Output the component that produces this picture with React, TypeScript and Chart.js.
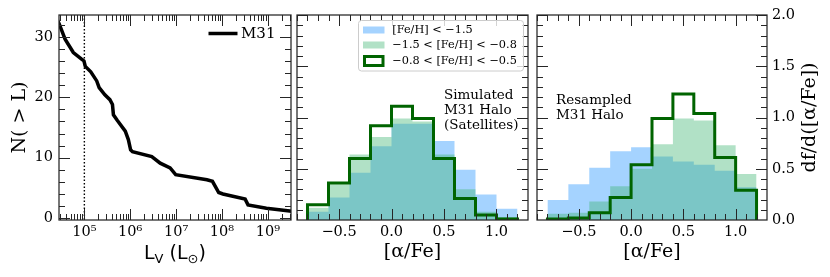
import React, { useEffect, useRef } from "react";
import { Chart, registerables } from "chart.js";

Chart.register(...registerables);

// ---------- data ----------
// Cumulative luminosity function of M31 satellites
const lumL = [2.5e4, 2.8e4, 3.8e4, 5.75e4, 8.7e4, 9.8e4, 1.05e5, 1.38e5, 1.86e5, 2.1e5, 2.8e5, 3.6e5, 4.1e5, 4.3e5, 5.2e5, 7.8e5, 9.1e5, 1.02e6, 1.12e6, 2.95e6, 4.5e6, 7.4e6, 9.8e6, 4.7e7, 6.2e7, 8.5e7, 1.05e8, 3.2e8, 3.7e8, 9.3e8, 3.0e9, 3.3e9];
const nAbove = [33.0, 32.2, 29.6, 27.4, 26.3, 26.0, 25.1, 24.2, 22.7, 21.6, 20.4, 19.6, 18.8, 17.1, 16.2, 14.4, 13.0, 11.3, 11.0, 10.2, 9.1, 8.3, 7.2, 6.35, 6.1, 4.25, 4.0, 3.15, 2.2, 1.65, 1.2, 1.15];
const lumCut = 1e5;

// [alpha/Fe] histograms (bin edges shared)
const binEdges = [-0.8, -0.6, -0.4, -0.2, 0.0, 0.2, 0.4, 0.6, 0.8, 1.0, 1.2];
const simPoor = [0.08, 0.22, 0.46, 0.72, 0.94, 0.94, 0.77, 0.49, 0.25, 0.11];
const simMid = [0.12, 0.35, 0.64, 0.81, 0.99, 0.96, 0.64, 0.30, 0.08, 0.03];
const simRich = [0.15, 0.36, 0.60, 0.92, 1.11, 0.99, 0.60, 0.21, 0.05, 0.01];
const resPoor = [0.195, 0.35, 0.51, 0.67, 0.71, 0.62, 0.57, 0.54, 0.48, 0.32];
const resMid = [0.06, 0.07, 0.18, 0.33, 0.50, 0.74, 0.99, 0.97, 0.73, 0.45];
const resRich = [0.01, 0.02, 0.07, 0.22, 0.54, 0.99, 1.23, 1.04, 0.61, 0.29];

// ticks & labels
const lumTicks = [1e5, 1e6, 1e7, 1e8, 1e9];
const lumTickLabels = ["10⁵", "10⁶", "10⁷", "10⁸", "10⁹"];
const nTicks = [0, 10, 20, 30];
const alphaTicks = [-0.5, 0, 0.5, 1.0];
const alphaTickLabels = ["−0.5", "0.0", "0.5", "1.0"];
const densTicks = [0, 0.5, 1.0, 1.5, 2.0];
const densTickLabels = ["0.0", "0.5", "1.0", "1.5", "2.0"];
const legendLabels = ["[Fe/H] < −1.5", "−1.5 < [Fe/H] < −0.8", "−0.8 < [Fe/H] < −0.5"];
const curveLabel = "M31";
const simText = ["Simulated", "M31 Halo", "(Satellites)"];
const resText = ["Resampled", "M31 Halo"];
const yTitleLeft = "N( > L)";
const yTitleRight = "df/d([α/Fe])";
const xTitleHist = "[α/Fe]";

// ---------- styles ----------
const SERIF = "'DejaVu Serif', serif";
const SANS = "'DejaVu Sans', sans-serif";
const BLUE = "rgba(30,144,255,0.4)";
const GREEN = "rgba(60,179,113,0.4)";
const DKGREEN = "#006400";
const FRAME = "#262626";

const H = 277;
const TOP = 15;
const BOTTOM_H = 57;

function stepPoints(edges: number[], h: number[]) {
  const pts: { x: number; y: number }[] = [{ x: edges[0], y: 0 }];
  h.forEach((v, i) => {
    pts.push({ x: edges[i], y: v });
    pts.push({ x: edges[i + 1], y: v });
  });
  pts.push({ x: edges[edges.length - 1], y: 0 });
  return pts;
}

function rangeTicks(min: number, max: number, step: number, skip: number[]) {
  const out: number[] = [];
  const n0 = Math.ceil(min / step - 1e-9);
  const n1 = Math.floor(max / step + 1e-9);
  for (let n = n0; n <= n1; n++) {
    const v = +(n * step).toFixed(6);
    if (!skip.some((s) => Math.abs(s - v) < 1e-9)) out.push(v);
  }
  return out;
}

function logMinor(min: number, max: number) {
  const out: number[] = [];
  for (let k = 3; k <= 10; k++) {
    for (let m = 2; m <= 9; m++) {
      const v = m * Math.pow(10, k);
      if (v > min && v < max) out.push(v);
    }
  }
  return out;
}

type TickSpec = { xMajor: number[]; xMinor: number[]; yMajor: number[]; yMinor: number[] };

function drawFrameTicks(chart: any, spec: TickSpec) {
  const { ctx, chartArea: a } = chart;
  const xs = chart.scales.x;
  const ys = chart.scales.y;
  ctx.save();
  ctx.strokeStyle = FRAME;
  ctx.lineWidth = 1;
  ctx.beginPath();
  const xt = (vals: number[], len: number) =>
    vals.forEach((v) => {
      const p = Math.round(xs.getPixelForValue(v)) + 0.5;
      if (p < a.left || p > a.right) return;
      ctx.moveTo(p, a.bottom);
      ctx.lineTo(p, a.bottom - len);
      ctx.moveTo(p, a.top);
      ctx.lineTo(p, a.top + len);
    });
  const yt = (vals: number[], len: number) =>
    vals.forEach((v) => {
      const p = Math.round(ys.getPixelForValue(v)) + 0.5;
      if (p < a.top || p > a.bottom) return;
      ctx.moveTo(a.left, p);
      ctx.lineTo(a.left + len, p);
      ctx.moveTo(a.right, p);
      ctx.lineTo(a.right - len, p);
    });
  xt(spec.xMajor, 11);
  xt(spec.xMinor, 6);
  yt(spec.yMajor, 11);
  yt(spec.yMinor, 6);
  ctx.stroke();
  ctx.lineWidth = 1.25;
  ctx.strokeRect(a.left, a.top, a.right - a.left, a.bottom - a.top);
  ctx.restore();
}

const tickFont = { family: SERIF, size: 14.5 };
const noGrid = { display: false, drawTicks: false };

function histXScale() {
  return {
    type: "linear",
    min: -0.9,
    max: 1.3,
    afterBuildTicks: (s: any) => {
      s.ticks = alphaTicks.map((v) => ({ value: v }));
    },
    afterFit: (s: any) => {
      s.height = BOTTOM_H;
    },
    ticks: {
      font: tickFont,
      color: "#000",
      padding: 4,
      maxRotation: 0,
      autoSkip: false,
      callback: (_v: any, i: number) => alphaTickLabels[i],
    },
    grid: noGrid,
    border: { display: false },
    title: {
      display: true,
      text: xTitleHist,
      color: "#000",
      font: { family: SERIF, size: 19 },
      padding: { top: 0, bottom: 14 },
    },
  };
}

function histDatasets(poor: number[], mid: number[], rich: number[]) {
  return [
    {
      label: legendLabels[2],
      data: stepPoints(binEdges, rich),
      borderColor: DKGREEN,
      borderWidth: 3,
      fill: false,
      pointRadius: 0,
      tension: 0,
      borderJoinStyle: "miter",
      order: 0,
    },
    {
      label: legendLabels[1],
      data: stepPoints(binEdges, mid),
      borderColor: "rgba(0,0,0,0)",
      borderWidth: 0,
      backgroundColor: GREEN,
      fill: "origin",
      pointRadius: 0,
      tension: 0,
      order: 1,
    },
    {
      label: legendLabels[0],
      data: stepPoints(binEdges, poor),
      borderColor: "rgba(0,0,0,0)",
      borderWidth: 0,
      backgroundColor: BLUE,
      fill: "origin",
      pointRadius: 0,
      tension: 0,
      order: 2,
    },
  ];
}

const histTickSpec: TickSpec = {
  xMajor: alphaTicks,
  xMinor: rangeTicks(-0.9, 1.3, 0.1, alphaTicks),
  yMajor: densTicks,
  yMinor: rangeTicks(0, 2, 0.1, densTicks),
};

// ---------- panel A: cumulative luminosity function ----------
const A_W = 294;
function configA(): any {
  const spec: TickSpec = {
    xMajor: lumTicks,
    xMinor: logMinor(2.8e4, 3.2e9),
    yMajor: nTicks,
    yMinor: rangeTicks(-0.3, 33.6, 2, nTicks),
  };
  return {
    type: "line",
    data: {
      datasets: [
        {
          label: curveLabel,
          data: lumL.map((x, i) => ({ x, y: nAbove[i] })),
          borderColor: "#000",
          borderWidth: 3.5,
          pointRadius: 0,
          tension: 0,
          fill: false,
        },
      ],
    },
    options: {
      responsive: false,
      animation: false,
      devicePixelRatio: 1,
      layout: { padding: { left: 0, top: TOP, right: A_W - 291, bottom: 0 } },
      plugins: { legend: { display: false }, tooltip: { enabled: false } },
      scales: {
        x: {
          type: "logarithmic",
          min: 2.8e4,
          max: 3.2e9,
          bounds: "data",
          afterBuildTicks: (s: any) => {
            s.ticks = lumTicks.map((v) => ({ value: v }));
          },
          afterFit: (s: any) => {
            s.height = BOTTOM_H;
          },
          ticks: {
            font: tickFont,
            color: "#000",
            padding: 4,
            maxRotation: 0,
            autoSkip: false,
            callback: (_v: any, i: number) => lumTickLabels[i],
          },
          grid: noGrid,
          border: { display: false },
        },
        y: {
          type: "linear",
          min: -0.3,
          max: 33.6,
          afterBuildTicks: (s: any) => {
            s.ticks = nTicks.map((v) => ({ value: v }));
          },
          afterFit: (s: any) => {
            s.width = 59;
          },
          ticks: { font: tickFont, color: "#000", padding: 6 },
          grid: noGrid,
          border: { display: false },
          title: {
            display: true,
            text: yTitleLeft,
            color: "#000",
            font: { family: SERIF, size: 19 },
            padding: { top: 9, bottom: 0 },
          },
        },
      },
    },
    plugins: [
      {
        id: "panelA",
        beforeDatasetsDraw(chart: any) {
          const { ctx, chartArea: a } = chart;
          const p = chart.scales.x.getPixelForValue(lumCut);
          ctx.save();
          ctx.strokeStyle = "#000";
          ctx.lineWidth = 1.4;
          ctx.setLineDash([1.5, 2]);
          ctx.beginPath();
          ctx.moveTo(p, a.top);
          ctx.lineTo(p, a.bottom);
          ctx.stroke();
          ctx.restore();
        },
        afterDatasetsDraw(chart: any) {
          drawFrameTicks(chart, spec);
          const { ctx } = chart;
          ctx.save();
          // legend
          ctx.strokeStyle = "#000";
          ctx.lineWidth = 3.5;
          ctx.beginPath();
          ctx.moveTo(208.5, 33.5);
          ctx.lineTo(237.5, 33.5);
          ctx.stroke();
          ctx.fillStyle = "#000";
          ctx.font = `15px ${SERIF}`;
          ctx.textBaseline = "middle";
          ctx.textAlign = "left";
          ctx.fillText(curveLabel, 241, 34);
          // x title L_V (L_sun)
          const base = 259;
          let x = 144;
          const big = `19px ${SANS}`;
          const small = `13px ${SANS}`;
          ctx.textBaseline = "alphabetic";
          const put = (t: string, f: string, dy: number) => {
            ctx.font = f;
            ctx.fillText(t, x, base + dy);
            x += ctx.measureText(t).width;
          };
          put("L", big, 0);
          put("V", small, 4);
          put(" (L", big, 0);
          put("⊙", small, 4);
          put(")", big, 0);
          ctx.restore();
        },
      },
    ],
  };
}

// ---------- panel B: simulated halo ----------
const B_LEFT = 294;
const B_W = 238;
function configB(): any {
  return {
    type: "line",
    data: { datasets: histDatasets(simPoor, simMid, simRich) },
    options: {
      responsive: false,
      animation: false,
      devicePixelRatio: 1,
      layout: { padding: { left: 297 - B_LEFT, top: TOP, right: B_LEFT + B_W - 528, bottom: 0 } },
      plugins: { legend: { display: false }, tooltip: { enabled: false } },
      scales: {
        x: histXScale(),
        y: { type: "linear", min: 0, max: 2, display: false },
      },
    },
    plugins: [
      {
        id: "panelB",
        afterDatasetsDraw(chart: any) {
          drawFrameTicks(chart, histTickSpec);
          const { ctx } = chart;
          const ox = -B_LEFT;
          ctx.save();
          // legend box
          const bx = 358.5 + ox, by = 20.5, bw = 165, bh = 50.5;
          ctx.beginPath();
          ctx.roundRect(bx, by, bw, bh, 3);
          ctx.fillStyle = "rgba(255,255,255,0.8)";
          ctx.fill();
          ctx.strokeStyle = "#cccccc";
          ctx.lineWidth = 1;
          ctx.stroke();
          const sx = 363 + ox, sw = 21.5, sh = 7;
          const rows = [30, 45, 61];
          ctx.fillStyle = BLUE;
          ctx.fillRect(sx, rows[0] - sh / 2, sw, sh);
          ctx.fillStyle = GREEN;
          ctx.fillRect(sx, rows[1] - sh / 2, sw, sh);
          ctx.strokeStyle = DKGREEN;
          ctx.lineWidth = 3;
          ctx.strokeRect(sx + 1.5, rows[2] - sh / 2 - 1, sw - 3, sh + 2);
          ctx.fillStyle = "#000";
          ctx.font = `11.3px ${SERIF}`;
          ctx.textBaseline = "middle";
          ctx.textAlign = "left";
          legendLabels.forEach((t, i) => ctx.fillText(t, 392.3 + ox, rows[i] + 0.5));
          // annotation
          ctx.font = `13.5px ${SERIF}`;
          ctx.textBaseline = "alphabetic";
          simText.forEach((t, i) => ctx.fillText(t, 444 + ox, 99 + i * 15));
          ctx.restore();
        },
      },
    ],
  };
}

// ---------- panel C: resampled halo ----------
const C_LEFT = 532;
const C_W = 298;
function configC(): any {
  return {
    type: "line",
    data: { datasets: histDatasets(resPoor, resMid, resRich) },
    options: {
      responsive: false,
      animation: false,
      devicePixelRatio: 1,
      layout: { padding: { left: 537 - C_LEFT, top: TOP, right: 0, bottom: 0 } },
      plugins: { legend: { display: false }, tooltip: { enabled: false } },
      scales: {
        x: histXScale(),
        y: {
          type: "linear",
          position: "right",
          min: 0,
          max: 2,
          afterBuildTicks: (s: any) => {
            s.ticks = densTicks.map((v) => ({ value: v }));
          },
          afterFit: (s: any) => {
            s.width = C_LEFT + C_W - 767;
          },
          ticks: {
            font: tickFont,
            color: "#000",
            padding: 5,
            callback: (_v: any, i: number) => densTickLabels[i],
          },
          grid: noGrid,
          border: { display: false },
        },
      },
    },
    plugins: [
      {
        id: "panelC",
        afterDatasetsDraw(chart: any) {
          drawFrameTicks(chart, histTickSpec);
          const { ctx } = chart;
          const ox = -C_LEFT;
          ctx.save();
          ctx.fillStyle = "#000";
          ctx.font = `13.5px ${SERIF}`;
          ctx.textBaseline = "alphabetic";
          ctx.textAlign = "left";
          resText.forEach((t, i) => ctx.fillText(t, 556 + ox, 103.5 + i * 15));
          // right-hand axis title, reading bottom to top
          ctx.translate(810 + ox, 117.5);
          ctx.rotate(-Math.PI / 2);
          ctx.font = `19px ${SERIF}`;
          ctx.textAlign = "center";
          ctx.textBaseline = "middle";
          ctx.fillText(yTitleRight, 0, 0);
          ctx.restore();
        },
      },
    ],
  };
}

export default function App() {
  const refA = useRef<HTMLCanvasElement>(null);
  const refB = useRef<HTMLCanvasElement>(null);
  const refC = useRef<HTMLCanvasElement>(null);
  useEffect(() => {
    const charts = [
      new Chart(refA.current as HTMLCanvasElement, configA()),
      new Chart(refB.current as HTMLCanvasElement, configB()),
      new Chart(refC.current as HTMLCanvasElement, configC()),
    ];
    return () => charts.forEach((c) => c.destroy());
  }, []);
  const cv = (left: number, w: number): React.CSSProperties => ({
    position: "absolute",
    left,
    top: 0,
    width: w,
    height: H,
  });
  return (
    <div style={{ position: "absolute", left: 0, top: 0, width: 830, height: H, background: "#fff", overflow: "hidden" }}>
      <canvas ref={refA} width={A_W} height={H} style={cv(0, A_W)} />
      <canvas ref={refB} width={B_W} height={H} style={cv(B_LEFT, B_W)} />
      <canvas ref={refC} width={C_W} height={H} style={cv(C_LEFT, C_W)} />
    </div>
  );
}
